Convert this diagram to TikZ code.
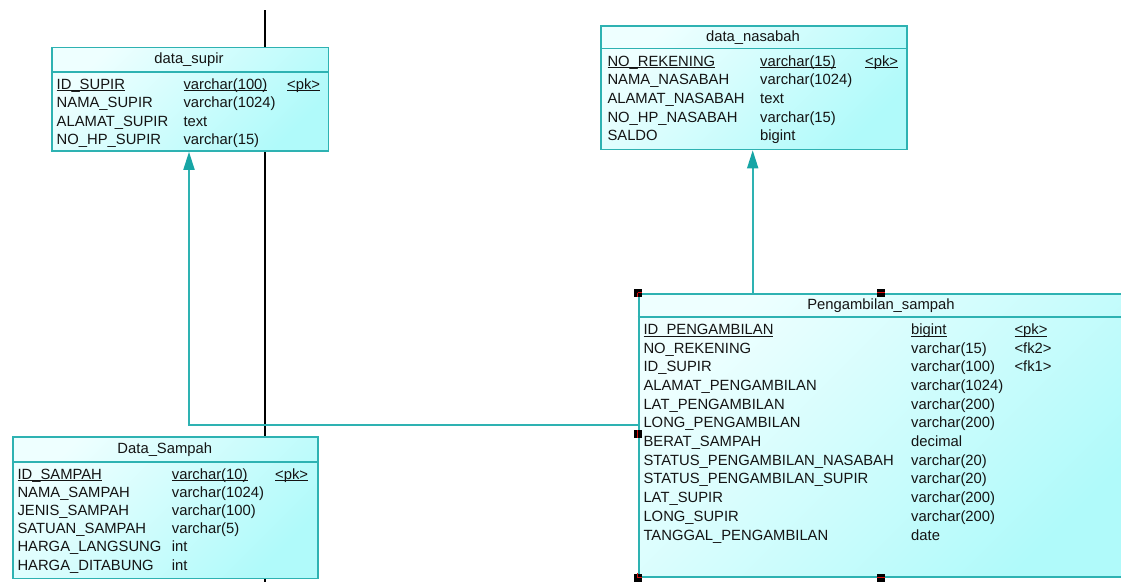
\documentclass[tikz,border=0pt]{standalone}
\usepackage{fontspec}
\setmainfont{Liberation Sans}
\usetikzlibrary{arrows.meta}
\definecolor{edge}{HTML}{2EB2B2}
\definecolor{arrowc}{HTML}{17A5A5}
\definecolor{fillA}{HTML}{EEFFFF}
\definecolor{fillB}{HTML}{B0FAFA}
\definecolor{ink}{HTML}{141414}
\definecolor{selred}{HTML}{E01010}
\newcommand\ulx[1]{\setbox0\hbox{#1}\rlap{\rule[-2.3pt]{\wd0}{1.1pt}}\box0}
\tikzset{
  x=1pt, y=-1pt,
  tbl/.style={draw=edge, line width=1.8pt, top color=fillA, bottom color=fillB,
    shading angle=45, rectangle, inner sep=0pt, anchor=north west},
  cell/.style={anchor=base west, inner sep=0pt, text=ink,
    font=\fontsize{14.8}{16}\selectfont},
  ttl/.style={anchor=base, inner sep=0pt, text=ink,
    font=\fontsize{14.8}{16}\selectfont},
  rel/.style={draw=edge, line width=1.8pt,
    -{Triangle[length=18pt,width=11pt,fill=arrowc,color=arrowc]}},
  handle/.style={fill=black, draw=none, minimum size=8pt, inner sep=0pt, rectangle},
  selline/.style={draw=selred, line width=1.2pt},
}
\begin{document}
\begin{tikzpicture}
\useasboundingbox (0,0) rectangle (1121,582);
\clip (0,0) rectangle (1121,582);
\fill[white] (0,0) rectangle (1121,582);

% vertical black rule behind the tables
\coordinate (vtop) at (265,10);
\coordinate (vbot) at (265,582);
\draw[line width=1.8pt, black] (vtop) -- (vbot);

% ---------- data_supir ----------
\node[tbl, minimum width=276.5, minimum height=103.5] (supir) at (51,46.5) {};
\draw[edge, line width=1.6pt] (51,71.7) -- (327.5,71.7);
\node[ttl] (supirT) at (189,63) {data\_supir};
\foreach \n/\t/\k [count=\i from 0] in {
  {\ulx{ID\_SUPIR}}/{\ulx{varchar(100)}}/{\ulx{<pk>}},
  NAMA\_SUPIR/varchar(1024)/{},
  ALAMAT\_SUPIR/text/{},
  NO\_HP\_SUPIR/varchar(15)/{}}{
  \node[cell] (supirN\i) at (56.5,89+18.6*\i) {\n};
  \node[cell] (supirY\i) at (183.3,89+18.6*\i) {\t};
  \node[cell] (supirK\i) at (287,89+18.6*\i) {\k};
}

% ---------- data_nasabah ----------
\node[tbl, minimum width=306, minimum height=123.5] (nasabah) at (600.3,25) {};
\draw[edge, line width=1.6pt] (600.3,48.3) -- (906.3,48.3);
\node[ttl] (nasabahT) at (753,41.7) {data\_nasabah};
\foreach \n/\t/\k [count=\i from 0] in {
  {\ulx{NO\_REKENING}}/{\ulx{varchar(15)}}/{\ulx{<pk>}},
  NAMA\_NASABAH/varchar(1024)/{},
  ALAMAT\_NASABAH/text/{},
  NO\_HP\_NASABAH/varchar(15)/{},
  SALDO/bigint/{}}{
  \node[cell] (nasabahN\i) at (607.3,66+18.7*\i) {\n};
  \node[cell] (nasabahY\i) at (760,66+18.7*\i) {\t};
  \node[cell] (nasabahK\i) at (865,66+18.7*\i) {\k};
}

% ---------- Data_Sampah ----------
\node[tbl, minimum width=305, minimum height=141.5] (sampah) at (12.3,436) {};
\draw[edge, line width=1.6pt] (12.3,461.7) -- (317.3,461.7);
\node[ttl] (sampahT) at (164.8,453.3) {Data\_Sampah};
\foreach \n/\t/\k [count=\i from 0] in {
  {\ulx{ID\_SAMPAH}}/{\ulx{varchar(10)}}/{\ulx{<pk>}},
  NAMA\_SAMPAH/varchar(1024)/{},
  JENIS\_SAMPAH/varchar(100)/{},
  SATUAN\_SAMPAH/varchar(5)/{},
  HARGA\_LANGSUNG/int/{},
  HARGA\_DITABUNG/int/{}}{
  \node[cell] (sampahN\i) at (17.3,479+18.2*\i) {\n};
  \node[cell] (sampahY\i) at (171.7,479+18.2*\i) {\t};
  \node[cell] (sampahK\i) at (275,479+18.2*\i) {\k};
}

% ---------- Pengambilan_sampah ----------
\node[tbl, minimum width=486.6, minimum height=283] (ambil) at (637.7,292.7) {};
\draw[edge, line width=1.6pt] (637.7,316.7) -- (1124.3,316.7);
\node[ttl] (ambilT) at (881,309.3) {Pengambilan\_sampah};
\foreach \n/\t/\k [count=\i from 0] in {
  {\ulx{ID\_PENGAMBILAN}}/{\ulx{bigint}}/{\ulx{<pk>}},
  NO\_REKENING/varchar(15)/{<fk2>},
  ID\_SUPIR/varchar(100)/{<fk1>},
  ALAMAT\_PENGAMBILAN/varchar(1024)/{},
  LAT\_PENGAMBILAN/varchar(200)/{},
  LONG\_PENGAMBILAN/varchar(200)/{},
  BERAT\_SAMPAH/decimal/{},
  STATUS\_PENGAMBILAN\_NASABAH/varchar(20)/{},
  STATUS\_PENGAMBILAN\_SUPIR/varchar(20)/{},
  LAT\_SUPIR/varchar(200)/{},
  LONG\_SUPIR/varchar(200)/{},
  TANGGAL\_PENGAMBILAN/date/{}}{
  \node[cell] (ambilN\i) at (643.3,334.3+18.7*\i) {\n};
  \node[cell] (ambilY\i) at (911,334.3+18.7*\i) {\t};
  \node[cell] (ambilK\i) at (1014.3,334.3+18.7*\i) {\k};
}

% ---------- references ----------
\coordinate (bend) at (189,425);
\draw[rel] (ambil.west |- bend) -- (bend) -- (supir.south -| bend);
\draw[rel] (ambil.north -| 752.7,0) -- (nasabah.south -| 752.7,0);

% ---------- selection handles ----------
\node[handle] (h1) at (ambil.north west) {};
\draw[selline] (h1.center) -- (h1.east) (h1.center) -- (h1.south);
\node[handle] (h2) at (ambil.north -| 881,0) {};
\draw[selline] (h2.west) -- (h2.east);
\node[handle] (h3) at (637.7,434) {};
\draw[selline] (h3.north) -- (h3.south);
\node[handle] (h4) at (ambil.south west) {};
\draw[selline] (h4.center) -- (h4.east) (h4.center) -- (h4.north);
\node[handle] (h5) at (ambil.south -| 881,0) {};
\draw[selline] (h5.west) -- (h5.east);
\end{tikzpicture}
\end{document}
